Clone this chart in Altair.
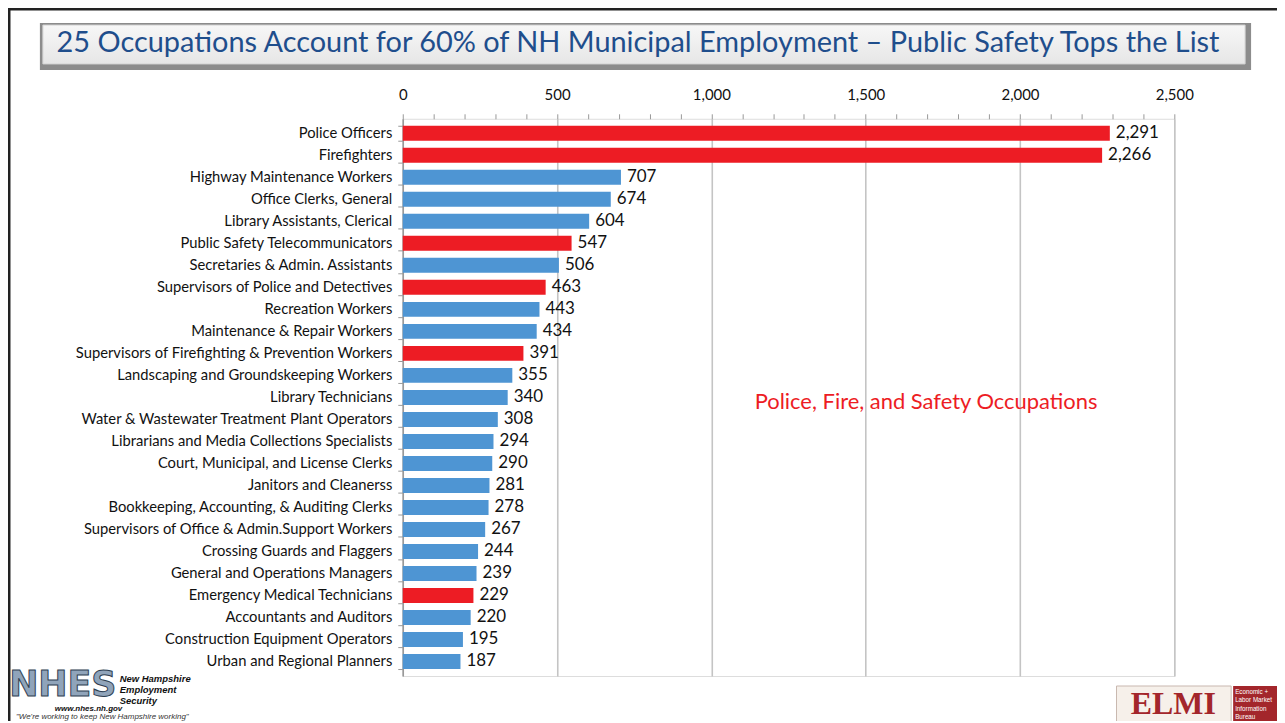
import altair as alt
import pandas as pd

categories = [
    "Police Officers", "Firefighters", "Highway Maintenance Workers", "Office Clerks, General",
    "Library Assistants, Clerical", "Public Safety Telecommunicators", "Secretaries & Admin. Assistants",
    "Supervisors of Police and Detectives", "Recreation Workers", "Maintenance & Repair Workers",
    "Supervisors of Firefighting & Prevention Workers", "Landscaping and Groundskeeping Workers",
    "Library Technicians", "Water & Wastewater Treatment Plant Operators",
    "Librarians and Media Collections Specialists", "Court, Municipal, and License Clerks",
    "Janitors and Cleanerss", "Bookkeeping, Accounting, & Auditing Clerks",
    "Supervisors of Office & Admin.Support Workers", "Crossing Guards and Flaggers",
    "General and Operations Managers", "Emergency Medical Technicians", "Accountants and Auditors",
    "Construction Equipment Operators", "Urban and Regional Planners",
]
values = [2291, 2266, 707, 674, 604, 547, 506, 463, 443, 434, 391, 355, 340, 308, 294,
          290, 281, 278, 267, 244, 239, 229, 220, 195, 187]
groups = ["safety", "safety", "other", "other", "other", "safety", "other", "safety", "other",
          "other", "safety", "other", "other", "other", "other", "other", "other", "other",
          "other", "other", "other", "safety", "other", "other", "other"]
x_ticks = list(range(0, 2501, 100))

title_text = "25 Occupations Account for 60% of NH Municipal Employment \u2013 Public Safety Tops the List"
note_text = "Police, Fire, and Safety Occupations"

df = pd.DataFrame({"occupation": categories, "value": values, "group": groups})
one = pd.DataFrame({"k": [0]})

y_enc = alt.Y(
    "occupation:N", sort=categories,
    scale=alt.Scale(paddingInner=0.32, paddingOuter=0.32),
    axis=alt.Axis(title=None, tickBand="extent", labelFontSize=14.8, labelFont="Lato",
                  labelColor="#111", labelPadding=6, tickSize=5, tickColor="#999",
                  domainColor="#999", domainWidth=1.5, labelLimit=420),
)
x_enc = alt.X(
    "value:Q", scale=alt.Scale(domain=[0, 2500], nice=False),
    axis=alt.Axis(orient="top", title=None, values=x_ticks,
                  labelExpr="datum.value % 500 === 0 ? format(datum.value, ',') : ''",
                  labelFontSize=15, labelFont="Lato", labelColor="#111", labelPadding=11,
                  labelOverlap=False, labelFlush=False, domain=False, tickSize=5,
                  tickColor="#999", gridColor="#c4c4c4", gridWidth=1.6,
                  gridOpacity={"condition": {"test": "datum.value % 500 === 0", "value": 1}, "value": 0}),
)

base = alt.Chart(df).encode(y=y_enc, x=x_enc)
bars = base.mark_bar().encode(
    color=alt.Color("group:N", scale=alt.Scale(domain=["safety", "other"],
                                                range=["#ED1C24", "#4E95D3"]), legend=None),
)
labels = base.mark_text(align="left", dx=6, fontSize=17, font="Lato", color="#111").encode(
    text=alt.Text("value:Q", format=","),
)

note = alt.Chart(one).mark_text(align="left", baseline="middle", fontSize=22, font="Lato",
                                color="#ED1C24", text=note_text).encode(
    x=alt.value(353), y=alt.value(284))

# slide frame
frame_top = alt.Chart(one).mark_rule(color="#222", strokeWidth=3).encode(
    x=alt.value(-396), x2=alt.value(900), y=alt.value(-110))
frame_left = alt.Chart(one).mark_rule(color="#222", strokeWidth=3).encode(
    x=alt.value(-395), y=alt.value(-111), y2=alt.value(620))

# title box
box_shadow = alt.Chart(one).mark_rect(color="#8c8c8c").encode(
    x=alt.value(-364), x2=alt.value(851), y=alt.value(-96), y2=alt.value(-49))
box_face = alt.Chart(one).mark_rect(
    fill=alt.LinearGradient(gradient="linear", stops=[alt.GradientStop(color="#f7f7f7", offset=0),
                                                      alt.GradientStop(color="#e6e6e6", offset=1)],
                            x1=0, x2=0, y1=0, y2=1),
    stroke="#d4d4d4", strokeWidth=1).encode(
    x=alt.value(-361), x2=alt.value(845), y=alt.value(-94), y2=alt.value(-55))
title = alt.Chart(one).mark_text(align="center", baseline="middle", fontSize=29, font="Lato",
                                 color="#1F4E8C", text=title_text).encode(
    x=alt.value(236), y=alt.value(-76))

# NHES logo
nhes = alt.Chart(one).mark_text(align="center", baseline="middle", fontSize=35, font="DejaVu Sans",
                                fontWeight="bold", color="#90A4BA", stroke="#2f3f52", strokeWidth=1,
                                text="NHES").encode(x=alt.value(-341), y=alt.value(568))
nhes_lines = []
for i, t in enumerate(["New Hampshire", "Employment", "Security"]):
    nhes_lines.append(alt.Chart(one).mark_text(align="left", baseline="middle", fontSize=9.5,
                                               font="Liberation Sans", fontWeight="bold",
                                               fontStyle="italic", color="#111", text=t).encode(
        x=alt.value(-284), y=alt.value(562 + 11 * i)))
nhes_url = alt.Chart(one).mark_text(align="left", baseline="middle", fontSize=8, font="Liberation Sans",
                                    fontWeight="bold", fontStyle="italic", color="#111",
                                    text="www.nhes.nh.gov").encode(x=alt.value(-349), y=alt.value(592))
nhes_tag = alt.Chart(one).mark_text(align="left", baseline="middle", fontSize=8, font="Liberation Sans",
                                    fontStyle="italic", color="#333",
                                    text="\"We're working to keep New Hampshire working\"").encode(
    x=alt.value(-388), y=alt.value(600))

# ELMI logo
elmi_bg = alt.Chart(one).mark_rect(fill="#f6f0ea", stroke="#c9b9b0").encode(
    x=alt.value(716), x2=alt.value(831), y=alt.value(569), y2=alt.value(610))
elmi_txt = alt.Chart(one).mark_text(align="center", baseline="middle", fontSize=32,
                                    font="Liberation Serif", fontWeight="bold", color="#A3262B",
                                    text="ELMI").encode(x=alt.value(773), y=alt.value(587))
elmi_red = alt.Chart(one).mark_rect(fill="#A3262B").encode(
    x=alt.value(833), x2=alt.value(885), y=alt.value(569), y2=alt.value(610))
elmi_lines = []
for i, t in enumerate(["Economic +", "Labor Market", "Information", "Bureau"]):
    elmi_lines.append(alt.Chart(one).mark_text(align="left", baseline="middle", fontSize=6.3,
                                               font="Liberation Sans", color="#fff", text=t).encode(
        x=alt.value(835), y=alt.value(575 + 8.5 * i)))

chart = alt.layer(
    bars, labels, note, frame_top, frame_left, box_shadow, box_face, title,
    nhes, *nhes_lines, nhes_url, nhes_tag, elmi_bg, elmi_txt, elmi_red, *elmi_lines,
).properties(
    width=774, height=559,
    autosize=alt.AutoSizeParams(type="none"),
    padding={"left": 396, "top": 110, "right": 103, "bottom": 44},
).configure_view(stroke=None).configure(background="white")

chart.save("out.html", embed_options={"renderer": "svg", "actions": False})
